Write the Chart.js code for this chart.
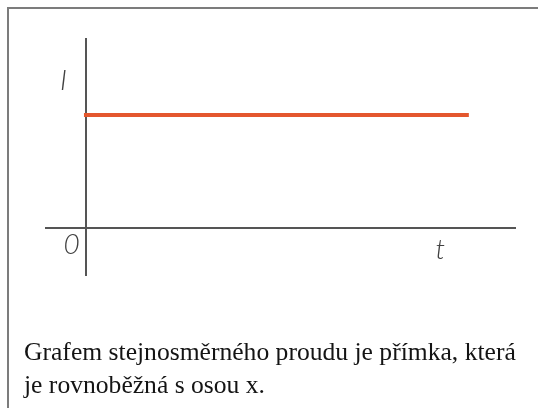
<!DOCTYPE html>
<html lang="cs">
<head>
<meta charset="utf-8">
<script src="https://cdn.jsdelivr.net/npm/chart.js@4/dist/chart.umd.min.js"></script>
<style>
  html, body { margin: 0; padding: 0; background: #fff; width: 538px; height: 408px; overflow: hidden; }
  #frame { position: absolute; left: 7px; top: 7px; width: 540px; height: 420px;
           border-left: 2px solid #7c7c7c; border-top: 2px solid #7c7c7c; }
  #c { position: absolute; left: 0; top: 0; }
  #caption { position: absolute; left: 24px; top: 336px; width: 510px;
             font-family: "Liberation Serif", "Times New Roman", serif; font-size: 25.6px;
             line-height: 32.5px; color: #141414; white-space: nowrap; }
</style>
</head>
<body>
<div id="frame"></div>
<canvas id="c" width="538" height="408"></canvas>
<div id="caption">Grafem stejnosměrného proudu je přímka, která<br>je rovnoběžná s osou x.</div>
<script>
// Data (arbitrary units)
const time = [0, 9.3];
const current = [2.38, 2.38];
const axisLabels = ['I', '0', 't'];

const labelPos = [[-0.55, 3.1], [-0.35, -0.35], [8.65, -0.45]];

const labelPlugin = {
  id: 'axisLabels',
  afterDraw(chart) {
    const { ctx, scales: { x, y } } = chart;
    ctx.save();
    ctx.fillStyle = '#404040';
    ctx.font = 'italic 300 28px "Lato", "Liberation Sans", sans-serif';
    ctx.textAlign = 'center';
    ctx.textBaseline = 'middle';
    axisLabels.forEach((t, i) => {
      ctx.fillText(t, x.getPixelForValue(labelPos[i][0]), y.getPixelForValue(labelPos[i][1]));
    });
    ctx.restore();
  }
};

const gridColor = (ctx) => (ctx.tick && ctx.tick.value === 0) ? '#555555' : 'rgba(0,0,0,0)';

new Chart(document.getElementById('c'), {
  type: 'line',
  data: {
    datasets: [{
      data: time.map((t, i) => ({ x: t, y: current[i] })),
      borderColor: '#e4572e',
      borderWidth: 4,
      borderCapStyle: 'square',
      pointRadius: 0,
      fill: false
    }]
  },
  options: {
    responsive: false,
    animation: false,
    devicePixelRatio: 1,
    layout: { padding: { left: 45, top: 38, right: 22, bottom: 132 } },
    plugins: { legend: { display: false }, tooltip: { enabled: false } },
    scales: {
      x: {
        type: 'linear', min: -1, max: 10.5,
        ticks: { display: false, stepSize: 1 },
        grid: { drawTicks: false, color: gridColor, lineWidth: 2 },
        border: { display: false }
      },
      y: {
        type: 'linear', min: -1, max: 4,
        ticks: { display: false, stepSize: 1 },
        grid: { drawTicks: false, color: gridColor, lineWidth: 2 },
        border: { display: false }
      }
    }
  },
  plugins: [labelPlugin]
});
</script>
</body>
</html>
